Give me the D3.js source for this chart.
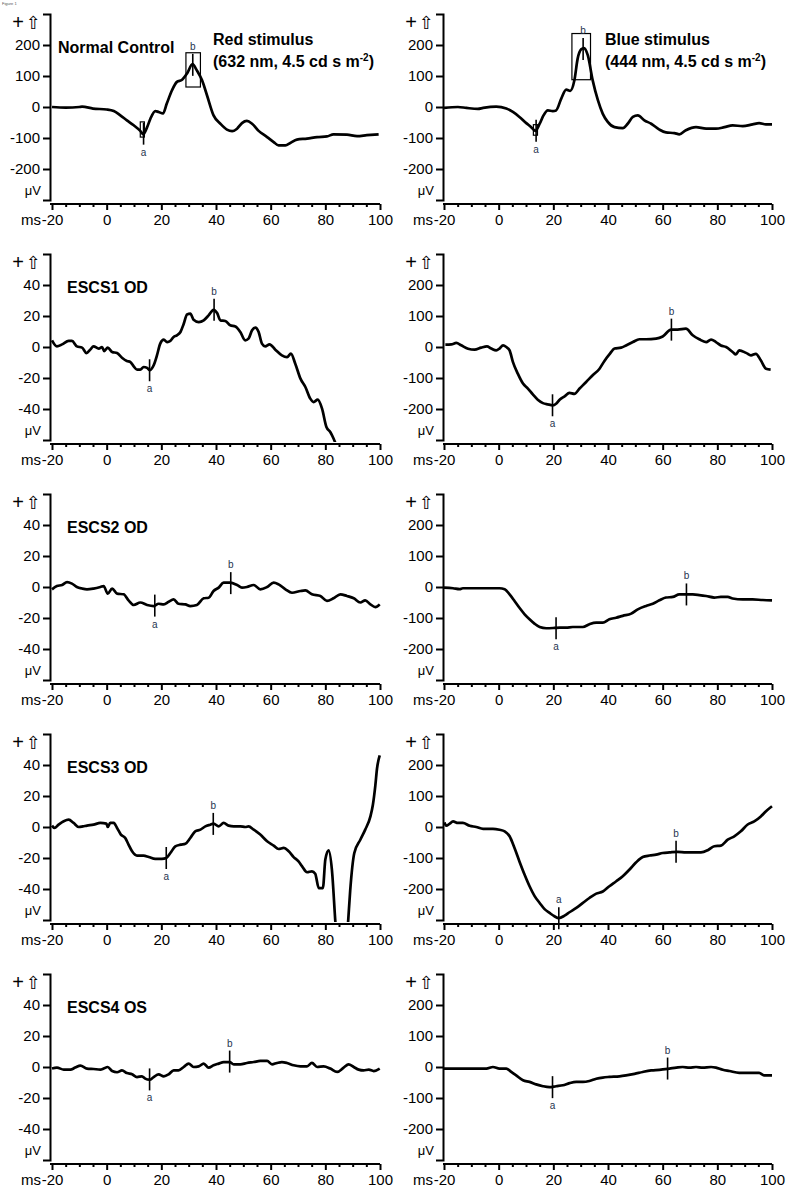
<!DOCTYPE html>
<html><head><meta charset="utf-8">
<script src="https://cdn.jsdelivr.net/npm/d3@7"></script>
<style>
body{margin:0;background:#fff}
svg{display:block}
text{font-family:"Liberation Sans",Arial,Helvetica,sans-serif}
</style>
</head><body>
<svg id="chart" width="800" height="1199"></svg>
<script>
// ---------------- DATA ----------------
const xTicksMajor = [-20, 0, 20, 40, 60, 80, 100];
const xTicksMinor = [-15,-10,-5,5,10,15,25,30,35,45,50,55,65,70,75,85,90,95];
const yTicksBig = [200, 100, 0, -100, -200];
const yTicksSmall = [40, 20, 0, -20, -40];

const titlesLeft = ["Normal Control", "ESCS1 OD", "ESCS2 OD", "ESCS3 OD", "ESCS4 OS"];
const stimRed = ["Red stimulus", "(632 nm, 4.5 cd s m", "-2", ")"];
const stimBlue = ["Blue stimulus", "(444 nm, 4.5 cd s m", "-2", ")"];

// traces: [ms, µV]
const ncRed = [[-20,0],[-15,-2],[-10,0],[-9,1],[-5,-5],[0,-8],[2.6,-13],[5,-27],[7.4,-43],[9.9,-59],[12.3,-77],[13.4,-88],[14.8,-65],[16,-38],[17.8,-13],[19,-16],[20.6,-21],[22,11],[23.9,54],[25.7,81],[27.6,88],[29.4,108],[31.4,138],[33,118],[34.9,86],[36.7,38],[39.1,-27],[41.6,-54],[44,-73],[45.9,-78],[47.7,-70],[49.5,-52],[51.3,-45],[53.2,-54],[55.6,-77],[58.7,-97],[61.1,-113],[62.9,-124],[65.4,-124],[67.2,-116],[69.6,-105],[73.3,-102],[77,-97],[80.6,-95],[83,-88],[87.9,-89],[91.6,-94],[95.2,-91],[99.5,-88]];
const ncBlue = [[-20,-3],[-14.9,0],[-11.8,-3],[-7.6,-6],[-5.7,-3],[-0.9,1],[2.8,-5],[5.2,-16],[7.6,-32],[10.1,-52],[11.9,-65],[13.4,-77],[15,-54],[16.4,-27],[18,-11],[19.8,-13],[21,-11],[22.9,27],[24.7,56],[26.2,52],[27.7,86],[28.9,156],[30.2,186],[31.2,190],[32.6,167],[34.4,86],[36.3,22],[38.1,-22],[39.9,-48],[42.4,-65],[45.4,-68],[47.2,-54],[49.1,-32],[50.9,-27],[53.3,-43],[55.8,-54],[58.8,-73],[61.2,-82],[64.3,-84],[66.1,-88],[68.5,-75],[72.2,-65],[75.9,-70],[79.5,-70],[82.6,-65],[85.6,-59],[89.3,-62],[92.9,-56],[95.3,-52],[97.8,-56],[100,-56]];
const escs1Red = [[-20,4.3],[-18.2,0.4],[-16.3,1.7],[-13.9,3.9],[-12.7,3.9],[-10.9,0.4],[-9,-0.4],[-7.4,-3.9],[-6,-1.7],[-4.8,0.4],[-2.9,-1],[-1.7,0],[-0.9,-2.6],[0.4,-0.4],[2,-3.2],[3.8,-3.9],[5.6,-6.9],[7.4,-9],[8.7,-9.7],[9.9,-12.5],[11.1,-14.6],[12.3,-14.6],[13.5,-12.9],[14.8,-13.5],[15.7,-15],[17.2,-11.8],[18.4,-5.4],[19.6,2.2],[20.9,4.7],[22.1,3.2],[23.3,3.9],[24.5,6.5],[25.7,7.5],[27,9.7],[28.2,15],[29.4,21],[30.6,21.5],[31.8,17.6],[33.7,16.1],[35.5,17.2],[37.3,20.4],[39.1,24],[40.4,21.9],[41.6,17.2],[43.4,16.8],[45.2,14],[47.1,13.3],[48.9,9.7],[50.7,4.3],[51.9,5.4],[53.2,10.8],[54.4,12.5],[55.6,9.7],[56.8,2.2],[58,0.4],[59.6,1.7],[61.7,-1.7],[64.1,-5.4],[66,-6.5],[67.4,-4.3],[69,-10.8],[70.9,-20.4],[72.7,-25.8],[74.5,-33.3],[75.7,-35.5],[77.2,-34],[78.8,-39.8],[80.4,-51.6],[81.8,-54.8],[83,-59],[83.7,-62]];
const escs1Blue = [[-19.5,7.5],[-17.3,8.6],[-15.5,13],[-13.7,5.4],[-11.2,-5.4],[-8.8,-8.6],[-6.4,-2],[-4.3,2],[-2.7,-5],[-0.9,-11],[0.3,-5],[1.6,5.4],[2.8,0],[4,-11],[5.2,-48],[7,-86],[8.9,-118],[10.7,-134],[12.5,-153],[14.3,-170],[16.2,-181],[18,-185],[19.8,-188],[21,-183],[22.3,-170],[24.1,-159],[25.9,-148],[27.7,-151],[29.6,-134],[32,-113],[34.4,-91],[36.9,-70],[38.7,-45],[40.5,-24],[42.4,-5],[44.8,-2],[46.6,5],[49.1,16],[51.5,25],[53.9,25],[57.6,27],[60,34],[63.1,56],[65.5,56],[68.5,59],[71,38],[73.4,25],[75.9,16],[77.7,24],[79.5,16],[81.3,5],[83.2,0],[85.6,-16],[86.8,-24],[88,-11],[90.5,-19],[92.3,-27],[94.1,-22],[95.9,-43],[97.8,-70],[99.5,-73]];
const escs2Red = [[-20,-1.5],[-18.2,0.6],[-16.3,1.3],[-14.5,3.2],[-12.7,2.2],[-10.9,0],[-9,-1],[-7.2,-1.5],[-4.8,-1],[-2.3,0],[-1.1,0.6],[0.4,-4.3],[2,-1],[3.8,-4.3],[6.2,-4.7],[8,-8.6],[9.9,-11.6],[12.3,-10],[14.8,-11.6],[17.2,-12.3],[19,-10.8],[20.9,-11.2],[22.7,-9.5],[24.5,-8],[26.3,-10.8],[28.8,-11.2],[30.6,-12.3],[33,-11.6],[35.5,-7.3],[37.3,-6.9],[39.1,-2.6],[41,-0.4],[42.8,2.8],[45.2,2.8],[47.7,1.3],[49.5,-0.4],[51.3,0],[53.8,1.3],[56.2,-1.5],[58.7,0],[61.1,2.8],[62.9,1.7],[65.4,-1.5],[67.8,-3.7],[70.9,-2.6],[72.7,-2.2],[75.1,-4.7],[78.2,-5.8],[80.6,-9],[83,-7.3],[85.5,-4.7],[87.9,-5.8],[90.4,-7.3],[92.8,-10],[94.6,-8.6],[96.5,-11.2],[98.3,-13],[99.9,-11.2]];
const escs2Blue = [[-20,-2],[-16.7,-4],[-14.3,-7],[-13.1,-4],[-9.4,-4],[-4.5,-4],[0.3,-4],[2.2,-7],[4,-24],[5.8,-45],[7.6,-67],[9.5,-88],[11.3,-104],[13.1,-118],[15,-129],[17.4,-133],[20.4,-132],[22.3,-131],[24.7,-131],[27.1,-129],[30.8,-129],[33.2,-120],[35.7,-115],[38.1,-115],[40.5,-104],[43,-99],[45.4,-93],[48.5,-86],[50.9,-72],[53.9,-61],[56.4,-54],[58.8,-43],[61.2,-34],[63.7,-32],[66.1,-24],[68.5,-24],[71,-24],[73.4,-26],[75.9,-29],[78.9,-34],[81.3,-32],[83.8,-32],[85.6,-37],[89.3,-40],[92.9,-40],[96.6,-42],[100,-43]];
const escs3Red = [[-20,0.9],[-19.1,-0.6],[-17.6,1.5],[-15.7,3.7],[-13.9,4.7],[-12.1,2.6],[-10.2,0],[-8.7,0.4],[-7.2,0.9],[-4.8,1.5],[-2.3,2.6],[-0.1,2.2],[0.4,0],[1.3,2.6],[2.6,2.6],[3.8,-0.6],[5.2,-4.9],[6.8,-7.1],[8,-11.4],[9.3,-15.7],[11.1,-18.5],[13.5,-18.5],[15.4,-19.4],[17.8,-20.6],[20.2,-20.6],[21.8,-20],[23.3,-16.8],[25.1,-12.5],[27,-11.4],[28.8,-10.8],[30.6,-7.1],[32.4,-2.8],[34.3,-1.7],[36.1,0.4],[37.9,1.5],[39.1,2.2],[41,0.4],[42.8,2.6],[44.6,0.9],[46.5,0.4],[48.9,0.4],[50.7,0],[51.9,0.4],[53.8,-1.7],[56.2,-4.9],[58.7,-9.2],[61.1,-12],[62.9,-14.2],[64.8,-13.5],[66.6,-15.7],[68.4,-19.4],[70.2,-22.2],[71.5,-25.4],[73.3,-29.2],[75.1,-28.6],[76.3,-30.1],[77.6,-39.4],[79.1,-39.4],[80,-21],[81.2,-15],[82.4,-27.5],[83.7,-62],[84.5,-80],[87.5,-80],[88.3,-62],[89.1,-40.9],[90.6,-16.8],[92.8,-8.2],[94.6,-1.7],[96.5,6.9],[97.4,14.4],[98.3,26.9],[98.9,37.6],[99.9,46.2]];
const escs3Blue = [[-19.8,15],[-19.2,4],[-17.9,11],[-16.7,18],[-14.9,13],[-13.1,13],[-10.6,4],[-8.2,0],[-5.7,-6],[-2.1,-6],[0.3,-9],[2.2,-14],[4,-30],[5.8,-68],[7.6,-111],[9.5,-154],[11.3,-191],[13.1,-222],[15,-245],[16.8,-265],[18.6,-277],[20.4,-288],[22,-294],[24.1,-286],[25.9,-275],[28.4,-261],[30.8,-245],[33.2,-229],[35.7,-215],[38.1,-208],[40.5,-191],[43,-175],[45.4,-159],[47.8,-138],[50.3,-114],[52.7,-97],[55.2,-92],[57.6,-89],[60,-84],[62.5,-82],[65.5,-80],[68.5,-82],[71,-82],[74,-82],[76.5,-75],[78.9,-62],[81.3,-60],[83.8,-41],[86.2,-30],[88.6,-14],[91.1,8],[93.5,18],[95.9,34],[97.8,51],[100,67]];
const escs4Red = [[-20,-1],[-18.2,-0.4],[-15.7,-1.7],[-13.3,-1.7],[-11.5,-0.4],[-9.6,0.9],[-7.2,-1],[-4.8,-1.3],[-2.3,-1.7],[-1.1,-1],[0.4,0],[2,-2.6],[3.8,-3.4],[5.6,-2.2],[7.4,-3.9],[9.3,-4.7],[11.1,-6.5],[12.9,-6],[14.1,-7.5],[15.7,-8.2],[17.2,-6.5],[19,-4.7],[20.9,-6],[22.7,-4.7],[24.5,-2.2],[26.3,-2.2],[28.2,0],[30,2.2],[31.8,0],[33.7,0.4],[35.5,2.2],[37.3,-0.4],[39.1,1.1],[41,2.2],[42.8,3.2],[45,3.2],[46.5,1.7],[48.9,1.7],[51.3,2.6],[53.8,3.2],[56.2,3.9],[58.7,3.9],[60.5,1.7],[62.3,2.6],[64.1,3.2],[66,2.6],[68.4,1.1],[70.9,0.4],[73.3,0.4],[75.1,2.6],[77,0],[79.4,0.4],[81.8,-1],[84.3,-3.2],[86.7,-0.4],[88.5,1.7],[90.4,0],[92.2,-1.7],[94,-2.2],[95.9,-1.7],[97.7,-2.6],[99.9,-1]];
const escs4Blue = [[-20,-5],[-11.8,-5],[-4.5,-5],[-2.1,0],[0.3,-5],[2.8,-5],[4.6,-16],[6.4,-27],[8.9,-43],[11.3,-48],[13.7,-56],[16.2,-62],[18.6,-65],[21,-62],[23.5,-59],[25.9,-52],[28.4,-48],[30.8,-48],[33.2,-45],[35.7,-38],[38.1,-34],[40.5,-32],[44.2,-30],[46.6,-27],[49.7,-22],[52.7,-16],[55.8,-11],[58.8,-9],[62.5,-5],[65,-2],[67.3,0],[69.8,-2],[72.2,0],[74.6,-2],[77.7,0],[79.5,-2],[82,-9],[84.4,-13],[88,-19],[91.7,-19],[95.3,-19],[97.1,-27],[100,-27]];

// a/b wave markers: [label, ms, µV]
const ncRedMarks = [["a",13.5,-86],["b",31.5,136]];
const ncBlueMarks = [["a",13.7,-77],["b",30.9,187]];
const escs1RedMarks = [["a",15.7,-15],["b",39.3,24]];
const escs1BlueMarks = [["a",19.7,-188],["b",63.2,56]];
const escs2RedMarks = [["a",17.6,-12],["b",45.4,2.5]];
const escs2BlueMarks = [["a",21,-133],["b",68.7,-24]];
const escs3RedMarks = [["a",21.8,-20],["b",39,2]];
const escs3BlueMarks = [["a",22,-294],["b",64.9,-80]];
const escs4RedMarks = [["a",15.7,-8],["b",45,3.5]];
const escs4BlueMarks = [["a",19.7,-65],["b",61.8,-5]];

// range boxes (normal control): [ms0, ms1, µV0, µV1]
const ncRedBoxes = [[12.3,13.8,-48,-97],[29,34.3,64.5,175]];
const ncBlueBoxes = [[12.7,14.2,-57,-91],[26.8,33.6,88,237]];

// ---------------- PANELS ----------------
const panels = [
  {row:0,col:0,data:ncRed,marks:ncRedMarks,boxes:ncRedBoxes,ymax:300,title:titlesLeft[0],stim:stimRed},
  {row:0,col:1,data:ncBlue,marks:ncBlueMarks,boxes:ncBlueBoxes,ymax:300,stim:stimBlue},
  {row:1,col:0,data:escs1Red,marks:escs1RedMarks,ymax:60,title:titlesLeft[1]},
  {row:1,col:1,data:escs1Blue,marks:escs1BlueMarks,ymax:300},
  {row:2,col:0,data:escs2Red,marks:escs2RedMarks,ymax:60,title:titlesLeft[2]},
  {row:2,col:1,data:escs2Blue,marks:escs2BlueMarks,ymax:300},
  {row:3,col:0,data:escs3Red,marks:escs3RedMarks,ymax:60,title:titlesLeft[3]},
  {row:3,col:1,data:escs3Blue,marks:escs3BlueMarks,ymax:300},
  {row:4,col:0,data:escs4Red,marks:escs4RedMarks,ymax:60,title:titlesLeft[4]},
  {row:4,col:1,data:escs4Blue,marks:escs4BlueMarks,ymax:300}
];

const svg = d3.select("#chart");
svg.append("text").attr("x",2).attr("y",5).attr("font-size",4).attr("fill","#555").text("Figure 1");

const colX0 = [52, 444];
const colAxisX = [50, 443];
const rowH = 240;
const plotW = 328;
const yTop = 14, yBot = 200, xAxisY = 204;
const markColor = "#26344f";
const fmt = d => String(d);  // plain hyphen-minus like the original

panels.forEach((p, i) => {
  const g = svg.append("g").attr("transform", `translate(0,${p.row*rowH})`);
  const x = d3.scaleLinear().domain([-20,100]).range([colX0[p.col], colX0[p.col]+plotW]);
  const y = d3.scaleLinear().domain([-p.ymax, p.ymax]).range([yBot, yTop]);
  const ax = colAxisX[p.col];

  // Y axis (bracket)
  const yAxis = d3.axisLeft(y).tickValues(p.ymax===300?yTicksBig:yTicksSmall)
    .tickSize(7).tickSizeOuter(7).tickPadding(3).tickFormat(fmt);
  const yg = g.append("g").attr("transform",`translate(${ax},0)`).call(yAxis);
  yg.select(".domain").attr("stroke","#000").attr("stroke-width",2).attr("fill","none");
  yg.selectAll(".tick line").attr("stroke","#000").attr("stroke-width",2);
  yg.selectAll(".tick text").attr("font-size",15).attr("fill","#000")
    .attr("font-family",'"Liberation Sans",Arial,sans-serif');

  g.append("text").attr("x",ax-9).attr("y",y(-p.ymax*0.9)).attr("dy","0.35em")
    .attr("text-anchor","end").attr("font-size",13).text("μV");
  const up = g.append("text").attr("x",ax-9).attr("y",y(p.ymax*0.9)).attr("dy","0.36em")
    .attr("text-anchor","end");
  up.append("tspan").attr("font-size",20).text("+");
  up.append("tspan").attr("font-size",18).attr("font-family","DejaVu Sans").attr("dx",2).text("⇧");

  // X axis
  const xAxis = d3.axisBottom(x).tickValues(xTicksMajor).tickSize(6).tickSizeOuter(0).tickPadding(4).tickFormat(fmt);
  const xg = g.append("g").attr("transform",`translate(0,${xAxisY})`).call(xAxis);
  xg.select(".domain").attr("stroke","#000").attr("stroke-width",2)
    .attr("d",`M${ax},0H${x(100)}`);
  xg.selectAll(".tick line").attr("stroke","#000").attr("stroke-width",2);
  xg.selectAll(".tick text").attr("font-size",15).attr("fill","#000")
    .attr("font-family",'"Liberation Sans",Arial,sans-serif');
  const xm = d3.axisBottom(x).tickValues(xTicksMinor).tickSize(3).tickFormat("");
  const xmg = g.append("g").attr("transform",`translate(0,${xAxisY})`).call(xm);
  xmg.select(".domain").remove();
  xmg.selectAll(".tick line").attr("stroke","#000").attr("stroke-width",2);
  g.append("text").attr("x",x(-20)-11).attr("y",xAxisY+10).attr("dy","0.71em")
    .attr("text-anchor","end").attr("font-size",15).text("ms");

  // clip
  const cid = "clip"+i;
  g.append("clipPath").attr("id",cid).append("rect")
    .attr("x",x(-20)-2).attr("y",0).attr("width",plotW+6).attr("height",yBot+2);

  // trace
  const line = d3.line().x(d=>x(d[0])).y(d=>y(d[1])).curve(d3.curveMonotoneX);
  g.append("path").datum(p.data).attr("clip-path",`url(#${cid})`)
    .attr("fill","none").attr("stroke","#000").attr("stroke-width",2.7)
    .attr("stroke-linejoin","round").attr("d",line);

  // boxes
  (p.boxes||[]).forEach(b => {
    g.append("rect").attr("x",x(b[0])).attr("y",y(Math.max(b[2],b[3])))
      .attr("width",x(b[1])-x(b[0])).attr("height",Math.abs(y(b[2])-y(b[3])))
      .attr("fill","none").attr("stroke","#000").attr("stroke-width",1.2);
  });

  // markers
  p.marks.forEach(m => {
    const mx = x(m[1]), my = y(m[2]);
    g.append("line").attr("x1",mx).attr("x2",mx).attr("y1",my-11).attr("y2",my+11)
      .attr("stroke","#000").attr("stroke-width",1.6);
    let below = m[0]==="a";
    if (below && my+11+12 > xAxisY) below = false;
    g.append("text").attr("x",mx).attr("y", below ? my+11+11 : my-11-4)
      .attr("text-anchor","middle").attr("font-size",10).attr("fill",markColor).text(m[0]);
  });

  // titles
  if (p.title) {
    g.append("text").attr("x",p.row===0?58:67).attr("y",53).attr("font-size",16)
      .attr("font-weight","bold").text(p.title);
  }
  if (p.stim) {
    const sx = p.col===0 ? 213 : 605;
    g.append("text").attr("x",sx).attr("y",45).attr("font-size",16).attr("font-weight","bold").text(p.stim[0]);
    const t2 = g.append("text").attr("x",sx).attr("y",67).attr("font-size",16).attr("font-weight","bold");
    t2.append("tspan").text(p.stim[1]);
    t2.append("tspan").attr("font-size",10).attr("dy",-6).text(p.stim[2]);
    t2.append("tspan").attr("dy",6).text(p.stim[3]);
  }
});
</script>
</body></html>
